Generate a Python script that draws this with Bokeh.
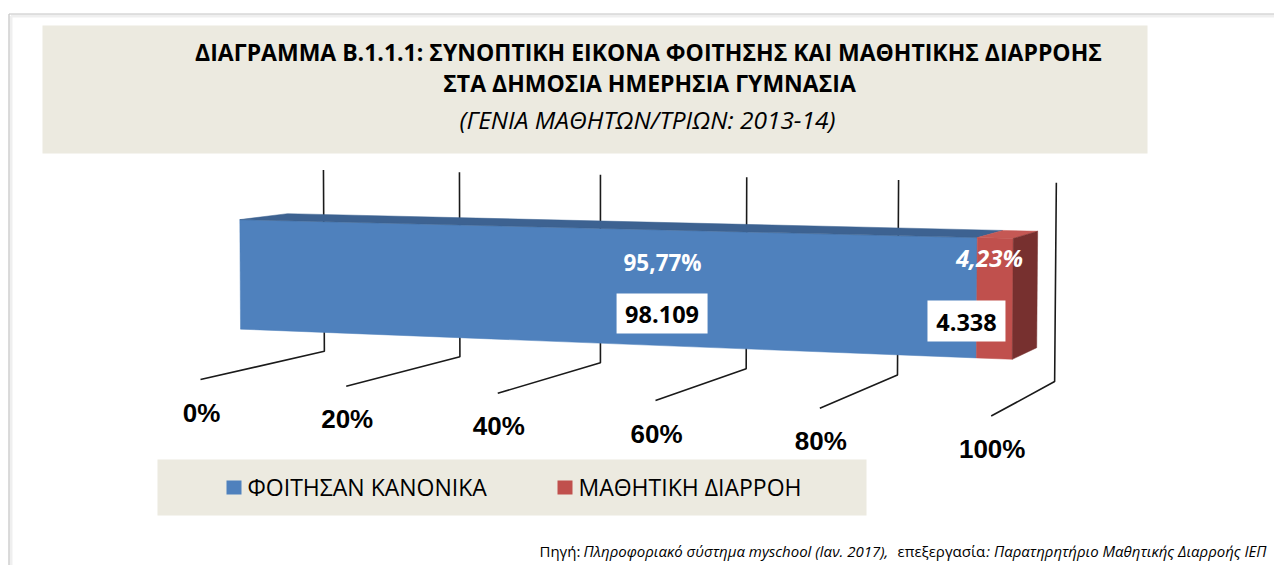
import numpy as np
from bokeh.plotting import figure
from bokeh.models import Range1d
from bokeh.core.properties import value
from bokeh.embed import file_html
from bokeh.resources import INLINE

# ---------------- data ----------------
categories = ["ΦΟΙΤΗΣΑΝ ΚΑΝΟΝΙΚΑ", "ΜΑΘΗΤΙΚΗ ΔΙΑΡΡΟΗ"]
counts = [98109, 4338]
tick_values = [0, 20, 40, 60, 80, 100]
tick_labels = ["0%", "20%", "40%", "60%", "80%", "100%"]
title_lines = ["ΔΙΑΓΡΑΜΜΑ Β.1.1.1: ΣΥΝΟΠΤΙΚΗ ΕΙΚΟΝΑ ΦΟΙΤΗΣΗΣ ΚΑΙ ΜΑΘΗΤΙΚΗΣ ΔΙΑΡΡΟΗΣ",
               "ΣΤΑ ΔΗΜΟΣΙΑ ΗΜΕΡΗΣΙΑ ΓΥΜΝΑΣΙΑ"]
subtitle = "(ΓΕΝΙΑ ΜΑΘΗΤΩΝ/ΤΡΙΩΝ: 2013-14)"
source_parts = ["Πηγή:", "Πληροφοριακό σύστημα myschool (Ιαν. 2017),", "επεξεργασία", ": Παρατηρητήριο Μαθητικής Διαρροής ΙΕΠ"]
source_italic = [False, True, False, True]

# ---------------- styles ----------------
front_colors = ["#4F81BD", "#C0504D"]
top_colors = ["#3D6291", "#C55854"]
side_colors = ["#3A5F8C", "#77302F"]
BEIGE = "#ECEAE0"
FONT = "Open Sans"
W_PX, H_PX = 1274, 565

# ---------------- 3-D frame (perspective camera, page pixels) ----------------
CAMERA = np.array([[6.95197, -0.0217971, 1.533663, 200.0056],
                   [-0.0358873, -1.984427, 0.0355477, 379.0907],
                   [-0.000963836, -3.67237e-05, 0.00091102, 1.0]])
WALL_TOP = 100.0     # height of back wall
WALL_Z = 100.0       # depth of back wall
BAR_Y = (21.48, 78.40)
BAR_Z = (30.66, 69.15)


def proj(X, Y, Z):
    X, Y, Z = np.broadcast_arrays(np.asarray(X, float), np.asarray(Y, float), np.asarray(Z, float))
    pts = np.stack([X, Y, Z, np.ones_like(X)])
    r = CAMERA @ pts.reshape(4, -1)
    return (r[0] / r[2]).reshape(X.shape), (r[1] / r[2]).reshape(X.shape)


total = float(sum(counts))
pcts = [c / total * 100 for c in counts]
ends = list(np.cumsum(pcts))
starts = [e - v for e, v in zip(ends, pcts)]
pct_labels = [f"{v:.2f}".replace(".", ",") + "%" for v in pcts]
count_labels = [f"{c:,}".replace(",", ".") for c in counts]

p = figure(width=W_PX, height=H_PX, x_range=Range1d(0, W_PX), y_range=Range1d(H_PX, 0),
           output_backend="svg", toolbar_location=None, x_axis_type=None, y_axis_type=None,
           min_border=0, outline_line_color=None, background_fill_color="white",
           border_fill_color="white")
p.xgrid.visible = False
p.ygrid.visible = False


def txt(x, y, t, size, style="normal", align="center", color="#000000", font=FONT):
    p.text(x=list(x), y=list(y), text=list(t), text_font=value(font), text_font_style=style,
           text_font_size=size, text_align=align, text_baseline="middle", text_color=color)


# outer frame
p.multi_line(xs=[[10.5, 10.5], [10.5, W_PX]], ys=[[H_PX + 5, 15.5], [15.5, 15.5]],
             line_color="#EFEFEF", line_width=3)
p.multi_line(xs=[[8.5, 8.5], [8.5, W_PX]], ys=[[H_PX + 5, 13.5], [13.5, 13.5]],
             line_color="#C4C4C4", line_width=1.2)

# title band
p.quad(left=[42], right=[1147], top=[25], bottom=[153], fill_color=BEIGE, line_color=None)
txt([648, 649], [51, 82.5], title_lines, "23px", "bold")
txt([647], [118.5], [subtitle], "24.5px", "italic")

# grid: wall verticals + floor lines
gx, gy = [], []
for t in tick_values:
    x1, y1 = proj([t, t, t], [WALL_TOP, 0, 0], [WALL_Z, WALL_Z, 0])
    gx.append(list(x1)); gy.append(list(y1))
p.multi_line(xs=gx, ys=gy, line_color="#1A1A1A", line_width=1.6)

# tick labels
fx, fy = proj(tick_values, 0, 0)
txt(fx + 1, fy + 33, tick_labels, "26px", "bold", font="Liberation Sans")

# bar faces
y0, y1 = BAR_Y
z0, z1 = BAR_Z
for i, (s, e) in enumerate(zip(starts, ends)):
    fxs, fys = proj([s, e, e, s], [y0, y0, y1, y1], [z0] * 4)
    p.patch(list(fxs), list(fys), fill_color=front_colors[i], line_color=front_colors[i], line_width=0.5)
    txs, tys = proj([s, e, e, s], [y1] * 4, [z0, z0, z1, z1])
    p.patch(list(txs), list(tys), fill_color=top_colors[i], line_color=top_colors[i], line_width=0.5)
    if i == len(starts) - 1:
        sxs, sys_ = proj([e] * 4, [y0, y0, y1, y1], [z0, z1, z1, z0])
        p.patch(list(sxs), list(sys_), fill_color=side_colors[i], line_color=side_colors[i], line_width=0.5)

# data labels, placed relative to the centre of each segment's front face
mid_x, mid_y = proj([(s + e) / 2 for s, e in zip(starts, ends)], (y0 + y1) / 2, z0)
pct_off = [(71.4, -23.1), (-5.3, -40.4)]
pct_size = ["22.5px", "24px"]
pct_style = ["bold", "bold italic"]
box_off = [(70.9, 27.9), (-28.3, 22.6)]
box_size = [(91, 40), (78, 41)]
for i in range(len(counts)):
    txt([mid_x[i] + pct_off[i][0]], [mid_y[i] + pct_off[i][1]], [pct_labels[i]], pct_size[i],
        pct_style[i], color="white")
    bx = mid_x[i] + box_off[i][0]; by = mid_y[i] + box_off[i][1]
    w, h = box_size[i]
    p.quad(left=[bx - w / 2], right=[bx + w / 2], top=[by - h / 2], bottom=[by + h / 2],
           fill_color="white", line_color=None)
    txt([bx], [by + 1.5], [count_labels[i]], "23.5px", "bold")

# legend
p.quad(left=[157], right=[866], top=[459], bottom=[515], fill_color=BEIGE, line_color=None)
leg_x = [226, 557]
p.quad(left=leg_x, right=[x + 15 for x in leg_x], top=[480, 480], bottom=[494, 494],
       fill_color=front_colors, line_color=None)
txt([x + 21 for x in leg_x], [486.5, 486.5], categories, "23px", align="left")

# source note
src_x = [539, 583, 897, 1266]
src_align = ["left", "left", "left", "right"]
for x, t, it, al in zip(src_x, source_parts, source_italic, src_align):
    txt([x], [550], [t], "15px", "italic" if it else "normal", align=al)

open("out.html", "w").write(file_html(p, INLINE))
